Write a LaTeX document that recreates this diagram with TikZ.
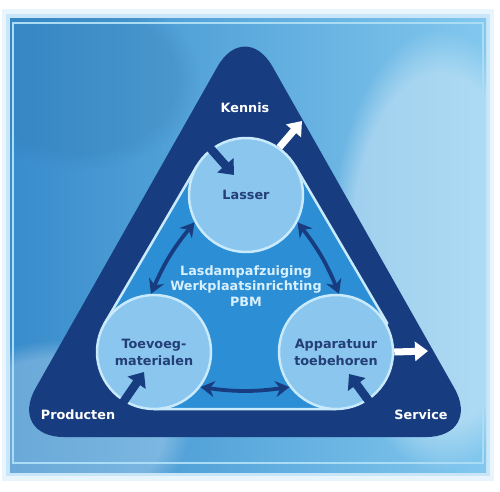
\documentclass[tikz,border=0pt]{standalone}
\usepackage{fontspec}
\setmainfont{DejaVu Sans}
\usetikzlibrary{arrows.meta,fadings,calc}
\definecolor{navy}{RGB}{24,60,128}
\definecolor{hullblue}{RGB}{44,142,212}
\definecolor{circfill}{RGB}{138,198,238}
\definecolor{circline}{RGB}{200,234,252}
\definecolor{circtext}{RGB}{36,62,118}
\definecolor{centtext}{RGB}{215,240,255}
\definecolor{bgdark}{RGB}{56,140,204}
\definecolor{bglight}{RGB}{130,200,238}
\definecolor{frameline}{RGB}{170,220,246}
\tikzset{
  circnode/.style={circle, minimum size=114pt, inner sep=0pt, fill=circfill, draw=circline, line width=2.5pt,
    text=circtext, font=\fontsize{12.8}{17}\selectfont\bfseries, align=center},
  lbl/.style={text=white, font=\fontsize{12.8}{15}\selectfont\bfseries},
  dblarrow/.style={draw=navy, line width=3.8pt, {Stealth[length=14pt,width=16pt]}-{Stealth[length=14pt,width=16pt]}},
  navyblock/.style={draw=navy, line width=8.5pt, -{Triangle[length=13pt,width=21pt]}},
  whiteblock/.style={draw=white, line width=7pt, -{Triangle[length=13pt,width=19pt]}},
}
\begin{document}
\begin{tikzpicture}[x=1pt,y=-1pt]
\useasboundingbox (0,0) rectangle (500,491);
\fill[white] (0,0) rectangle (500,491);
% background panel with soft edge
\fill[bglight!50!white, opacity=0.35] (2,9) rectangle (494,481);
\fill[bglight!70!white, opacity=0.5] (6,14) rectangle (490,476);
\shade[left color=bgdark, right color=bglight] (10,18) rectangle (486,472);
\begin{scope}
\clip (10,18) rectangle (486,472);
\fill[white, opacity=0.35, path fading=circle with fuzzy edge 20 percent] (440,250) ellipse (110 and 220);
\fill[white, opacity=0.25, path fading=circle with fuzzy edge 20 percent] (60,430) ellipse (130 and 90);
\fill[bgdark!80!black, opacity=0.2, path fading=circle with fuzzy edge 20 percent] (80,80) ellipse (120 and 90);
\end{scope}
\draw[frameline, line width=1.2pt] (13,23) rectangle (483,463);
% outer triangle
\fill[navy, rounded corners=56pt] (245,18) -- (482,437) -- (8,437) -- cycle;
% inner hull
\coordinate (L1) at (196.82,166.18);
\coordinate (T1) at (104.82,323.18);
\coordinate (T2) at (154,409);
\coordinate (A2) at (336,409);
\coordinate (A1) at (387.18,323.18);
\coordinate (L2) at (295.18,166.18);
\filldraw[fill=hullblue, draw=circline, line width=2.5pt, line join=round] (L1) -- (T1) -- (T2) -- (A2) -- (A1) -- (L2) -- cycle;
% circles
\node[circnode] (L) at (246,195) {Lasser};
\node[circnode] (T) at (154,352) {Toevoeg-\\materialen};
\node[circnode] (A) at (336,352) {Apparatuur\\toebehoren};
% labels
\node[lbl] (kennis) at (245,108) {Kennis};
\node[lbl] (prod) at (78,415) {Producten};
\node[lbl] (serv) at (421,415) {Service};
\node[text=centtext, font=\fontsize{12.8}{15.5}\selectfont\bfseries, align=center] (center) at (246,286) {Lasdampafzuiging\\Werkplaatsinrichting\\PBM};
% double arrows
\draw[dblarrow] (L.208) to[bend right=8] (T.93);
\draw[dblarrow] (L.332) to[bend left=8] (A.87);
\draw[dblarrow] (T.-37) to[bend right=8] (A.217);
% block arrows
\coordinate (inStart) at (203,140);
\coordinate (inTip) at (234,175);
\coordinate (prStart) at (122,404);
\coordinate (prTip) at (144,372);
\coordinate (svStart) at (371,404);
\coordinate (svTipIn) at (349,374);
\coordinate (knTip) at (302,121);
\coordinate (svTip) at (428,351);
\draw[navyblock] (inStart) -- (inTip);
\draw[navyblock] (prStart) -- (prTip);
\draw[navyblock] (svStart) -- (svTipIn);
\draw[whiteblock] (L.55) -- (knTip);
\draw[whiteblock] (A.0) -- (svTip);
\end{tikzpicture}
\end{document}
